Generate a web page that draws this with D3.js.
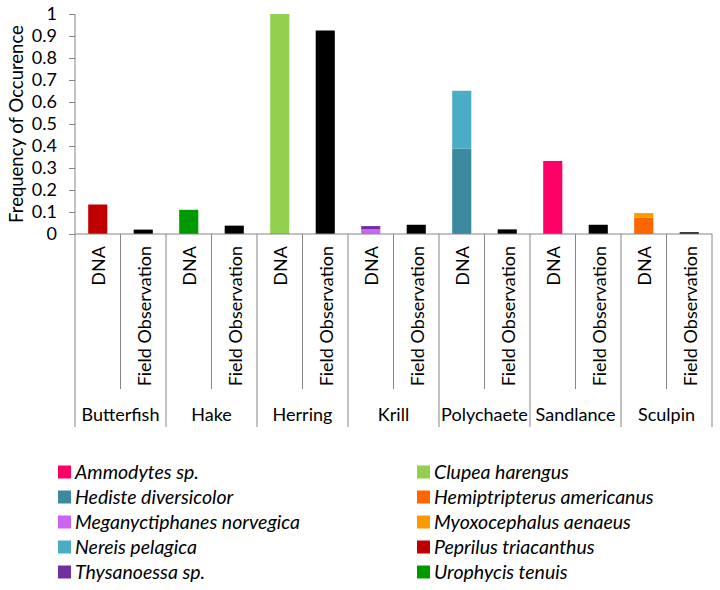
<!DOCTYPE html>
<html>
<head>
<meta charset="utf-8">
<script src="https://cdn.jsdelivr.net/npm/d3@7"></script>
<style>
  body { margin: 0; background: #fff; }
  svg { display: block; font-family: Lato, "Open Sans", sans-serif; }
</style>
</head>
<body>
<svg id="chart" width="720" height="590"></svg>
<script>
// ---------- data ----------
const groups = ["Butterfish", "Hake", "Herring", "Krill", "Polychaete", "Sandlance", "Sculpin"];
const methods = ["DNA", "Field Observation"];

const species = [
  "Ammodytes sp.", "Hediste diversicolor", "Meganyctiphanes norvegica", "Nereis pelagica", "Thysanoessa sp.",
  "Clupea harengus", "Hemiptripterus americanus", "Myoxocephalus aenaeus", "Peprilus triacanthus", "Urophycis tenuis"
];
// stacking order (series order in the original workbook)
const stackOrder = [
  "Peprilus triacanthus", "Urophycis tenuis", "Clupea harengus",
  "Meganyctiphanes norvegica", "Thysanoessa sp.",
  "Hediste diversicolor", "Nereis pelagica",
  "Ammodytes sp.",
  "Hemiptripterus americanus", "Myoxocephalus aenaeus"
];

// DNA frequency of occurrence by group (Butterfish..Sculpin)
const ammodytes       = [0, 0, 0, 0, 0, 0.332, 0];
const hediste         = [0, 0, 0, 0, 0.388, 0, 0];
const meganyctiphanes = [0, 0, 0, 0.021, 0, 0, 0];
const nereis          = [0, 0, 0, 0, 0.263, 0, 0];
const thysanoessa     = [0, 0, 0, 0.015, 0, 0, 0];
const clupea          = [0, 0, 1.0, 0, 0, 0, 0];
const hemitripterus   = [0, 0, 0, 0, 0, 0, 0.075];
const myoxocephalus   = [0, 0, 0, 0, 0, 0, 0.020];
const peprilus        = [0.134, 0, 0, 0, 0, 0, 0];
const urophycis       = [0, 0.110, 0, 0, 0, 0, 0];

// Field observation frequency by group
const fieldObservation = [0.020, 0.038, 0.925, 0.042, 0.021, 0.042, 0.008];

const yTicks = [0, 0.1, 0.2, 0.3, 0.4, 0.5, 0.6, 0.7, 0.8, 0.9, 1];
const yTickLabels = ["0", "0.1", "0.2", "0.3", "0.4", "0.5", "0.6", "0.7", "0.8", "0.9", "1"];

const speciesValues = {
  "Ammodytes sp.": ammodytes,
  "Hediste diversicolor": hediste,
  "Meganyctiphanes norvegica": meganyctiphanes,
  "Nereis pelagica": nereis,
  "Thysanoessa sp.": thysanoessa,
  "Clupea harengus": clupea,
  "Hemiptripterus americanus": hemitripterus,
  "Myoxocephalus aenaeus": myoxocephalus,
  "Peprilus triacanthus": peprilus,
  "Urophycis tenuis": urophycis
};

// ---------- styles ----------
const colorOf = {
  "Ammodytes sp.": "#FF0066",
  "Hediste diversicolor": "#3C8AA0",
  "Meganyctiphanes norvegica": "#C964F5",
  "Nereis pelagica": "#4BACC6",
  "Thysanoessa sp.": "#7030A0",
  "Clupea harengus": "#92D050",
  "Hemiptripterus americanus": "#FF6600",
  "Myoxocephalus aenaeus": "#FF9900",
  "Peprilus triacanthus": "#C00000",
  "Urophycis tenuis": "#009900",
  "Field Observation": "#000000"
};
const axisColor = "#868686";

// ---------- build table ----------
const columns = [];
groups.forEach((g, gi) => {
  methods.forEach((m) => {
    const row = { key: g + "|" + m, group: g, method: m };
    stackOrder.forEach(s => { row[s] = m === "DNA" ? speciesValues[s][gi] : 0; });
    row["Field Observation"] = m === "DNA" ? 0 : fieldObservation[gi];
    columns.push(row);
  });
});
const seriesKeys = [...stackOrder, "Field Observation"];
const stacked = d3.stack().keys(seriesKeys)(columns);

// ---------- layout ----------
const svg = d3.select("#chart");
const plotL = 75, plotR = 712, plotT = 14, plotB = 234;
const x = d3.scaleBand().domain(columns.map(d => d.key)).range([plotL, plotR]).padding(0);
const y = d3.scaleLinear().domain([0, 1]).range([plotB, plotT]);
const barW = x.bandwidth() * 0.42;

// bars
svg.append("g").selectAll("g").data(stacked).join("g")
  .attr("fill", s => colorOf[s.key])
  .selectAll("rect").data(s => s).join("rect")
  .attr("x", d => x(d.data.key) + (x.bandwidth() - barW) / 2)
  .attr("width", barW)
  .attr("y", d => y(d[1]))
  .attr("height", d => Math.max(0, y(d[0]) - y(d[1])));

// y axis
const yAxis = svg.append("g").attr("transform", `translate(${plotL},0)`)
  .call(d3.axisLeft(y).tickValues(yTicks).tickFormat((d, i) => yTickLabels[i]).tickSize(6).tickPadding(12));
yAxis.select(".domain").attr("stroke", axisColor).attr("d", `M0,${plotT}V${plotB}`);
yAxis.selectAll(".tick line").attr("stroke", axisColor);
yAxis.selectAll(".tick text").attr("fill", "#000").style("font-size", "18px").style("font-family", "Lato, sans-serif");

// x axis baseline
svg.append("line").attr("x1", plotL).attr("x2", plotR).attr("y1", y(0)).attr("y2", y(0))
  .attr("stroke", axisColor).attr("stroke-width", 1);

// separators
const boundaries = d3.range(columns.length + 1);
svg.append("g").selectAll("line").data(boundaries).join("line")
  .attr("x1", i => i < columns.length ? x(columns[i].key) : plotR)
  .attr("x2", i => i < columns.length ? x(columns[i].key) : plotR)
  .attr("y1", y(0))
  .attr("y2", i => i % 2 === 0 ? 427 : 389)
  .attr("stroke", axisColor).attr("stroke-width", 1);

// method labels (rotated)
svg.append("g").selectAll("text").data(columns).join("text")
  .attr("transform", d => `translate(${x(d.key) + x.bandwidth() / 2 + 1},246) rotate(-90)`)
  .attr("text-anchor", "end")
  .attr("dy", "0.36em")
  .style("font-size", "18px")
  .text(d => d.method);

// group labels
svg.append("g").selectAll("text").data(groups).join("text")
  .attr("x", (g, i) => x(columns[i * 2].key) + x.bandwidth())
  .attr("y", 421)
  .attr("text-anchor", "middle")
  .style("font-size", "18px")
  .text(g => g);

// y title
svg.append("text")
  .attr("transform", `translate(16,${(plotT + plotB) / 2}) rotate(-90)`)
  .attr("text-anchor", "middle")
  .attr("dy", "0.36em")
  .style("font-size", "18.5px")
  .text("Frequency of Occurence");

// legend
const legend = svg.append("g");
const leg = legend.selectAll("g").data(species).join("g")
  .attr("transform", (s, i) => `translate(${i < 5 ? 58 : 417},${472 + (i % 5) * 25})`);
leg.append("rect").attr("x", 0).attr("y", -6.5).attr("width", 13).attr("height", 13)
  .attr("fill", s => colorOf[s]);
leg.append("text").attr("x", 17).attr("dy", "0.36em")
  .style("font-size", "19.5px").style("font-style", "italic")
  .text(s => s);
</script>
</body>
</html>
